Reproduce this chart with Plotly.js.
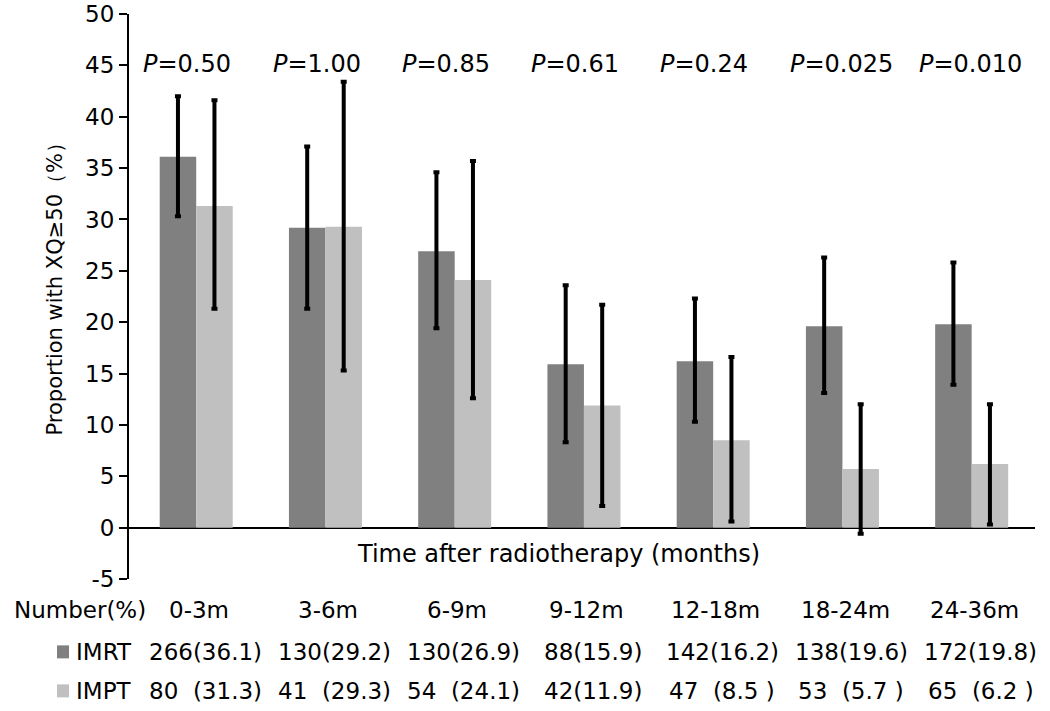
<!DOCTYPE html>
<html>
<head>
<meta charset="utf-8">
<script src="https://cdn.plot.ly/plotly-3.0.1.min.js"></script>
<style>html,body{margin:0;padding:0;background:#fff;}#chart{width:1050px;height:711px;}</style>
</head>
<body>
<div id="chart"></div>
<script>
const categories = ["0-3m", "3-6m", "6-9m", "9-12m", "12-18m", "18-24m", "24-36m"];
const imrtValues = [36.1, 29.2, 26.9, 15.9, 16.2, 19.6, 19.8];
const imptValues = [31.3, 29.3, 24.1, 11.9, 8.5, 5.7, 6.2];
const imrtUpper = [42.0, 37.1, 34.6, 23.6, 22.3, 26.3, 25.8];
const imrtLower = [30.3, 21.3, 19.4, 8.3, 10.3, 13.1, 13.9];
const imptUpper = [41.6, 43.4, 35.7, 21.7, 16.6, 12.0, 12.0];
const imptLower = [21.3, 15.3, 12.6, 2.1, 0.6, -0.6, 0.3];
const pValues = ["0.50", "1.00", "0.85", "0.61", "0.24", "0.025", "0.010"];
const imrtTable = ["266(36.1)", "130(29.2)", "130(26.9)", "88(15.9)", "142(16.2)", "138(19.6)", "172(19.8)"];
const imptTable = ["80\u00a0\u00a0(31.3)", "41\u00a0\u00a0(29.3)", "54\u00a0\u00a0(24.1)", "42(11.9)", "47\u00a0\u00a0(8.5\u00a0)", "53\u00a0\u00a0(5.7\u00a0)", "65\u00a0\u00a0(6.2\u00a0)"];
const yTickVals = [-5, 0, 5, 10, 15, 20, 25, 30, 35, 40, 45, 50];
const yTickText = ["-5", "0", "5", "10", "15", "20", "25", "30", "35", "40", "45", "50"];

const FONT = "DejaVu Sans, Arial, sans-serif";
const idx = categories.map((c, i) => i);

function err(vals, up, lo) {
  return {
    type: 'data', symmetric: false,
    array: vals.map((v, i) => +(up[i] - v).toFixed(2)),
    arrayminus: vals.map((v, i) => +(v - lo[i]).toFixed(2)),
    color: '#000', thickness: 4, width: 3
  };
}

const traces = [
  {type: 'bar', name: 'IMRT', x: idx, y: imrtValues, marker: {color: '#808080'},
   error_y: err(imrtValues, imrtUpper, imrtLower), hoverinfo: 'none'},
  {type: 'bar', name: 'IMPT', x: idx, y: imptValues, marker: {color: '#c0c0c0'},
   error_y: err(imptValues, imptUpper, imptLower), hoverinfo: 'none'}
];

const ann = [];
pValues.forEach((p, i) => ann.push({
  xref: 'x', yref: 'y', x: i - 0.425, y: 45.1, xanchor: 'left', yanchor: 'middle',
  text: '<i>P</i>=' + p, showarrow: false, font: {family: FONT, size: 24, color: '#000'}
}));
ann.push({xref: 'x', yref: 'y', x: 2.8, y: -2.6, xanchor: 'center', yanchor: 'middle',
  text: 'Time after radiotherapy (months)', showarrow: false, font: {family: FONT, size: 24, color: '#000'}});
ann.push({xref: 'paper', yref: 'paper', x: -0.0817, y: 0.523, xanchor: 'center', yanchor: 'middle', textangle: -90,
  text: 'Proportion with XQ≥50（%）', showarrow: false, font: {family: FONT, size: 21, color: '#000'}});

const rowY = [-0.055, -0.129, -0.198];
ann.push({xref: 'paper', yref: 'paper', x: -0.129, y: rowY[0], xanchor: 'left', yanchor: 'middle',
  text: 'Number(%)', showarrow: false, font: {family: FONT, size: 23, color: '#000'}});
ann.push({xref: 'paper', yref: 'paper', x: -0.0607, y: rowY[1], xanchor: 'left', yanchor: 'middle',
  text: 'IMRT', showarrow: false, font: {family: FONT, size: 23, color: '#000'}});
ann.push({xref: 'paper', yref: 'paper', x: -0.0607, y: rowY[2], xanchor: 'left', yanchor: 'middle',
  text: 'IMPT', showarrow: false, font: {family: FONT, size: 23, color: '#000'}});
categories.forEach((c, i) => {
  ann.push({xref: 'x', yref: 'paper', x: i + 0.02, y: rowY[0], xanchor: 'center', yanchor: 'middle',
    text: c, showarrow: false, font: {family: FONT, size: 23, color: '#000'}});
  ann.push({xref: 'x', yref: 'paper', x: i + 0.07, y: rowY[1], xanchor: 'center', yanchor: 'middle',
    text: imrtTable[i], showarrow: false, font: {family: FONT, size: 23, color: '#000'}});
  ann.push({xref: 'x', yref: 'paper', x: i + 0.07, y: rowY[2], xanchor: 'center', yanchor: 'middle',
    text: imptTable[i], showarrow: false, font: {family: FONT, size: 23, color: '#000'}});
});

const shapes = [
  {type: 'rect', xref: 'paper', yref: 'paper', x0: -0.0795, x1: -0.0662, y0: rowY[1] - 0.0115, y1: rowY[1] + 0.0115,
   fillcolor: '#808080', line: {width: 0}},
  {type: 'rect', xref: 'paper', yref: 'paper', x0: -0.0795, x1: -0.0662, y0: rowY[2] - 0.0115, y1: rowY[2] + 0.0115,
   fillcolor: '#c0c0c0', line: {width: 0}}
];

const layout = {
  width: 1050, height: 711,
  margin: {l: 129, r: 15, t: 13.5, b: 132},
  paper_bgcolor: '#fff', plot_bgcolor: '#fff',
  showlegend: false,
  barmode: 'group', bargap: 0.435, bargroupgap: 0,
  xaxis: {range: [-0.52, 6.49], showticklabels: false, showgrid: false, zeroline: false, showline: false, ticks: ''},
  yaxis: {range: [-5, 50], tickmode: 'array', tickvals: yTickVals, ticktext: yTickText,
    showgrid: false, zeroline: true, zerolinecolor: '#000', zerolinewidth: 2,
    showline: true, linecolor: '#000', linewidth: 2, ticks: 'outside', ticklen: 8, tickwidth: 2, tickcolor: '#000',
    tickfont: {family: FONT, size: 23, color: '#000'}},
  annotations: ann,
  shapes: shapes
};

Plotly.newPlot('chart', traces, layout, {displayModeBar: false, staticPlot: true});
</script>
</body>
</html>
